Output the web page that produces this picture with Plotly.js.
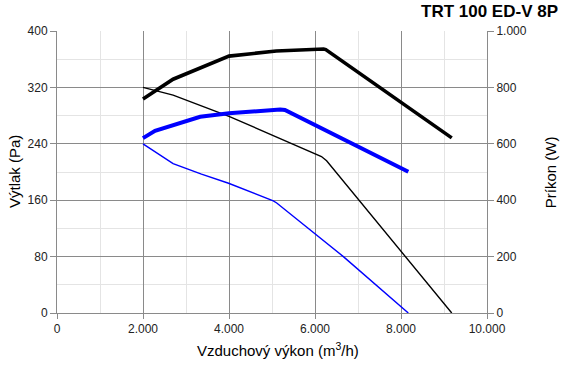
<!DOCTYPE html>
<html>
<head>
<meta charset="utf-8">
<script src="https://cdn.plot.ly/plotly-3.0.1.min.js"></script>
<style>html,body{margin:0;padding:0;background:#fff}#chart{width:566px;height:373px}</style>
</head>
<body>
<div id="chart"></div>
<script>
// Pressure curves (left axis, Pa)
const pBlackX = [2000, 2700, 4000, 5100, 6150, 6270, 8130, 9180];
const pBlackY = [320, 309, 279, 250, 222, 216, 78, 0];
const pBlueX = [2000, 2700, 3360, 3990, 5030, 5110, 6660, 8170];
const pBlueY = [240, 212, 197, 184, 159, 156, 80, 0];
// Power curves (right axis, W)
const wBlackX = [2000, 2700, 4000, 5100, 6200, 6250, 9180];
const wBlackY = [759, 829, 911, 929, 936, 934, 621];
const wBlueX = [2000, 2280, 3330, 4000, 5190, 5300, 8170];
const wBlueY = [620, 646, 696, 708, 722, 720, 501];

const title = "TRT 100 ED-V 8P";
const xTitle = "Vzduchový výkon (m<sup>3</sup>/h)";
const yTitle = "Výtlak (Pa)";
const y2Title = "Príkon (W)";

const font = "Liberation Sans, Arial, sans-serif";
const traces = [
  {x: pBlackX, y: pBlackY, yaxis: 'y', mode: 'lines', line: {color: '#000000', width: 1.4}},
  {x: pBlueX, y: pBlueY, yaxis: 'y', mode: 'lines', line: {color: '#0000ff', width: 1.4}},
  {x: wBlackX, y: wBlackY, yaxis: 'y2', mode: 'lines', line: {color: '#000000', width: 3.6}},
  {x: wBlueX, y: wBlueY, yaxis: 'y2', mode: 'lines', line: {color: '#0000ff', width: 4}}
];
const major = '#8a8a8a', minorC = '#e4e4e4';
const layout = {
  width: 566, height: 373,
  margin: {l: 57, r: 79, t: 31, b: 60},
  paper_bgcolor: '#fff', plot_bgcolor: '#fff',
  showlegend: false,
  separators: ',.',
  font: {family: font, size: 12, color: '#222'},
  xaxis: {
    range: [0, 10000], dtick: 2000, tick0: 0, tickformat: ',d', separatethousands: true,
    showgrid: true, gridcolor: major, gridwidth: 1,
    minor: {dtick: 1000, showgrid: true, gridcolor: minorC, gridwidth: 1},
    ticks: 'outside', ticklen: 5, tickcolor: major,
    showline: true, linecolor: major, zeroline: false,
    tickfont: {size: 12, color: '#222'}
  },
  yaxis: {
    range: [0, 400], dtick: 80, tick0: 0,
    showgrid: true, gridcolor: major, gridwidth: 1,
    minor: {dtick: 40, showgrid: true, gridcolor: minorC, gridwidth: 1},
    ticks: 'outside', ticklen: 6, tickcolor: major,
    showline: true, linecolor: major, zeroline: false,
    tickfont: {size: 12, color: '#222'}
  },
  yaxis2: {
    range: [0, 1000], dtick: 200, tick0: 0, overlaying: 'y', side: 'right',
    tickformat: ',d', separatethousands: true, showgrid: false,
    ticks: 'outside', ticklen: 6, tickcolor: major,
    showline: true, linecolor: major, zeroline: false,
    tickfont: {size: 12, color: '#222'}
  },
  annotations: [
    {text: '<b>' + title + '</b>', xref: 'paper', yref: 'paper', x: 1.17, y: 1.068,
     xanchor: 'right', yanchor: 'middle', showarrow: false, font: {size: 17, color: '#000'}},
    {text: xTitle, xref: 'paper', yref: 'paper', x: 0.515, y: -0.09, xanchor: 'center', yanchor: 'top',
     showarrow: false, font: {size: 15, color: '#000'}},
    {text: yTitle, xref: 'paper', yref: 'paper', x: -0.1, y: 0.5, xanchor: 'center', yanchor: 'middle',
     textangle: -90, showarrow: false, font: {size: 15, color: '#000'}},
    {text: y2Title, xref: 'paper', yref: 'paper', x: 1.147, y: 0.5, xanchor: 'center', yanchor: 'middle',
     textangle: -90, showarrow: false, font: {size: 15, color: '#000'}}
  ]
};
Plotly.newPlot('chart', traces, layout, {displayModeBar: false, staticPlot: true});
</script>
</body>
</html>
